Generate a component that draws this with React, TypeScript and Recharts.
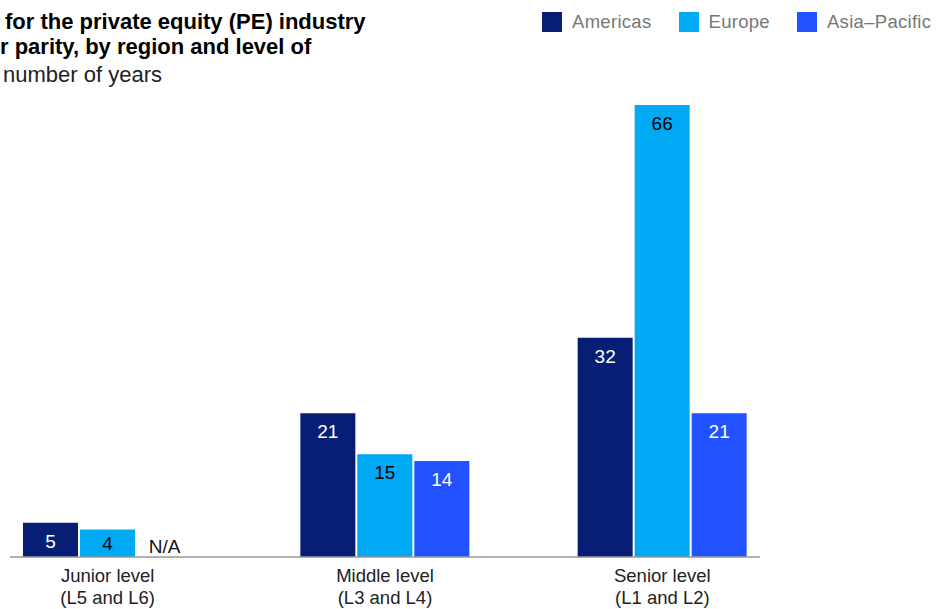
import { BarChart, Bar, XAxis, YAxis, LabelList } from 'recharts';

const categories = ['Junior level|(L5 and L6)', 'Middle level|(L3 and L4)', 'Senior level|(L1 and L2)'];
const americas = [5, 21, 32];
const europe = [4, 15, 66];
const asiaPacific: (number | null)[] = [null, 14, 21];

const series = [
  { key: 'americas', name: 'Americas', color: '#061f75', text: '#ffffff' },
  { key: 'europe', name: 'Europe', color: '#00a9f4', text: '#000000' },
  { key: 'asia', name: 'Asia\u2013Pacific', color: '#2251ff', text: '#ffffff' },
];

const chartData = categories.map((c, i) => ({
  category: c,
  americas: americas[i],
  europe: europe[i],
  asia: asiaPacific[i] ?? 0,
  americasLabel: String(americas[i]),
  europeLabel: String(europe[i]),
  asiaLabel: asiaPacific[i] === null ? 'N/A' : String(asiaPacific[i]),
}));

const FONT = '"Liberation Sans", Arial, Helvetica, sans-serif';

const makeLabel = (color: string) => (props: any) => {
  const { x, y, width, height, value } = props;
  if (value === 'N/A') {
    return (
      <text x={x + width / 2} y={y - 4} textAnchor="middle" fill="#111" fontSize={19} fontFamily={FONT}>
        N/A
      </text>
    );
  }
  // keep the number inside short bars
  const baseline = Math.min(y + 25, y + height - 7);
  return (
    <text x={x + width / 2} y={baseline} textAnchor="middle" fill={color} fontSize={19} fontFamily={FONT}>
      {value}
    </text>
  );
};

const CategoryTick = (props: any) => {
  const { x, y, payload } = props;
  const [a, b] = String(payload.value).split('|');
  return (
    <g>
      <text x={x} y={y + 17} textAnchor="middle" fill="#222" fontSize={18.5} fontFamily={FONT}>{a}</text>
      <text x={x} y={y + 39} textAnchor="middle" fill="#222" fontSize={18.5} fontFamily={FONT}>{b}</text>
    </g>
  );
};

export default function App() {
  return (
    <div style={{ position: 'fixed', left: 0, top: 0, width: 944, height: 609, background: '#fff', overflow: 'hidden', fontFamily: FONT }}>
      <div style={{ position: 'absolute', left: 5, top: 9, fontSize: 22, fontWeight: 700, color: '#000', lineHeight: '26px', whiteSpace: 'nowrap' }}>
        for the private equity (PE) industry
      </div>
      <div style={{ position: 'absolute', left: 0, top: 34, fontSize: 22, fontWeight: 700, color: '#000', lineHeight: '26px', whiteSpace: 'nowrap' }}>
        r parity, by region and level of
      </div>
      <div style={{ position: 'absolute', left: 3, top: 62, fontSize: 22, color: '#222', lineHeight: '26px', whiteSpace: 'nowrap' }}>
        number of years
      </div>
      <div style={{ position: 'absolute', left: 542, top: 12, display: 'flex', alignItems: 'center' }}>
        {series.map((s) => (
          <div key={s.key} style={{ display: 'flex', alignItems: 'center', marginRight: 27 }}>
            <div style={{ width: 20, height: 20, background: s.color, marginRight: 10 }} />
            <span style={{ fontSize: 18.5, color: '#777', lineHeight: '20px', whiteSpace: 'nowrap', letterSpacing: 0.3 }}>{s.name}</span>
          </div>
        ))}
      </div>
      <div style={{ position: 'absolute', left: 0, top: 0 }}>
        <BarChart
          width={944}
          height={609}
          data={chartData}
          margin={{ top: 105, right: 184, bottom: 2, left: 10 }}
          barSize={55}
          barGap={2}
        >
          <XAxis
            dataKey="category"
            tickLine={false}
            axisLine={{ stroke: '#999', strokeWidth: 1.5 }}
            tick={<CategoryTick />}
            height={50}
            interval={0}
            padding={{ left: -41, right: -41 }}
          />
          <YAxis hide domain={[0, 66]} />
          <Bar dataKey="americas" fill={series[0].color} isAnimationActive={false}>
            <LabelList dataKey="americasLabel" content={makeLabel(series[0].text)} />
          </Bar>
          <Bar dataKey="europe" fill={series[1].color} isAnimationActive={false}>
            <LabelList dataKey="europeLabel" content={makeLabel(series[1].text)} />
          </Bar>
          <Bar
            dataKey="asia"
            fill={series[2].color}
            isAnimationActive={false}
            minPointSize={(v: number) => (v === 0 ? 0.01 : 0)}
          >
            <LabelList dataKey="asiaLabel" content={makeLabel(series[2].text)} />
          </Bar>
        </BarChart>
      </div>
    </div>
  );
}
